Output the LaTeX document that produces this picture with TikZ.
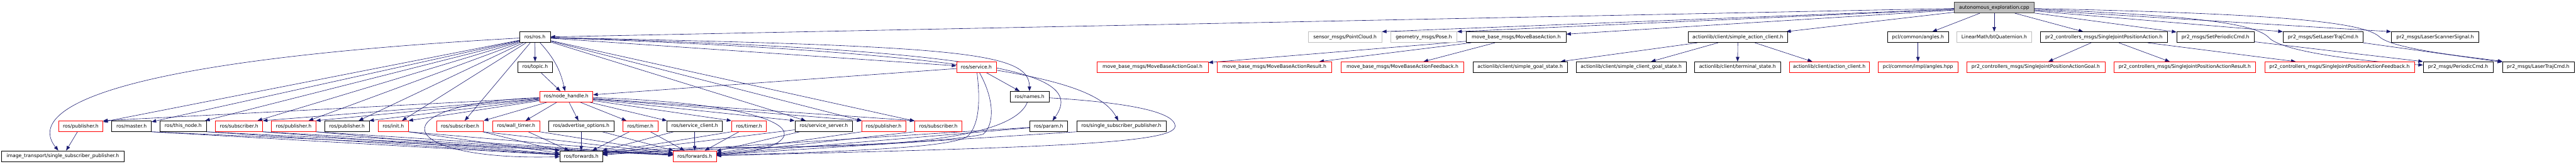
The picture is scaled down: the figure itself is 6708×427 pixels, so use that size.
\documentclass[tikz,border=0pt]{standalone}
\usepackage{fontspec}
\setmainfont{DejaVu Sans}
\usepackage{tikz}
\usetikzlibrary{arrows.meta,backgrounds}
\usepackage{xcolor}
\definecolor{edgeblue}{HTML}{191970}
\definecolor{lightgrey}{HTML}{BFBFBF}

\begin{document}
\begin{tikzpicture}[x=1pt,y=-1pt,>={Triangle[length=12pt,width=9pt]},font=\fontsize{12.6}{15}\selectfont,
  hdr/.style={draw=black,line width=1pt,fill=white,minimum height=28pt,inner sep=0pt},
  hdrred/.style={hdr,draw=red},
  hdrgrey/.style={hdr,draw=lightgrey},
  hdrmain/.style={hdr,draw=black!75,fill=lightgrey},
  inc/.style={->,edgeblue,line width=1pt}]
\useasboundingbox (0,0) rectangle (6708,427);
\node[hdrmain,minimum width=208] (aexp) at (5193,20) {autonomous\_exploration.cpp};
\node[hdr,minimum width=80] (rosh) at (1393,97) {ros/ros.h};
\node[hdrgrey,minimum width=191] (pcloud) at (3502.5,97) {sensor\_msgs/PointCloud.h};
\node[hdrgrey,minimum width=173] (pose) at (3707.5,97) {geometry\_msgs/Pose.h};
\node[hdr,minimum width=260] (mbaction) at (3948,97) {move\_base\_msgs/MoveBaseAction.h};
\node[hdr,minimum width=259] (sac) at (4525.5,97) {actionlib/client/simple\_action\_client.h};
\node[hdr,minimum width=159] (pclangles) at (4994.5,97) {pcl/common/angles.h};
\node[hdrgrey,minimum width=194] (btquat) at (5193,97) {LinearMath/btQuaternion.h};
\node[hdr,minimum width=331] (sjpa) at (5478.5,97) {pr2\_controllers\_msgs/SingleJointPositionAction.h};
\node[hdr,minimum width=202] (setper) at (5769,97) {pr2\_msgs/SetPeriodicCmd.h};
\node[hdr,minimum width=209] (setlaser) at (6049.5,97) {pr2\_msgs/SetLaserTrajCmd.h};
\node[hdr,minimum width=228] (lsignal) at (6341,97) {pr2\_msgs/LaserScannerSignal.h};
\node[hdr,minimum width=89] (topic) at (1393.5,175) {ros/topic.h};
\node[hdrred,minimum width=103] (service) at (2542.5,175) {ros/service.h};
\node[hdrred,minimum width=290] (mbgoal) at (3001,175) {move\_base\_msgs/MoveBaseActionGoal.h};
\node[hdrred,minimum width=299] (mbresult) at (3318.5,175) {move\_base\_msgs/MoveBaseActionResult.h};
\node[hdrred,minimum width=320] (mbfeedback) at (3652,175) {move\_base\_msgs/MoveBaseActionFeedback.h};
\node[hdr,minimum width=245] (sgstate) at (3958.5,175) {actionlib/client/simple\_goal\_state.h};
\node[hdr,minimum width=287] (scgstate) at (4247.5,175) {actionlib/client/simple\_client\_goal\_state.h};
\node[hdr,minimum width=223] (tstate) at (4524.5,175) {actionlib/client/terminal\_state.h};
\node[hdrred,minimum width=209] (aclient) at (4763.5,175) {actionlib/client/action\_client.h};
\node[hdrred,minimum width=207] (angleshpp) at (4994.5,175) {pcl/common/impl/angles.hpp};
\node[hdrred,minimum width=360] (sjpagoal) at (5301,175) {pr2\_controllers\_msgs/SingleJointPositionActionGoal.h};
\node[hdrred,minimum width=370] (sjparesult) at (5689,175) {pr2\_controllers\_msgs/SingleJointPositionActionResult.h};
\node[hdrred,minimum width=390] (sjpafeedback) at (6092,175) {pr2\_controllers\_msgs/SingleJointPositionActionFeedback.h};
\node[hdr,minimum width=182] (periodic) at (6401,175) {pr2\_msgs/PeriodicCmd.h};
\node[hdr,minimum width=187] (lasertraj) at (6609.5,175) {pr2\_msgs/LaserTrajCmd.h};
\node[hdrred,minimum width=139] (nodehandle) at (1474.5,252) {ros/node\_handle.h};
\node[hdr,minimum width=102] (names) at (2681,252) {ros/names.h};
\node[hdrred,minimum width=115] (pub_a) at (210.5,329) {ros/publisher.h};
\node[hdr,minimum width=103] (master) at (342.5,329) {ros/master.h};
\node[hdr,minimum width=120] (thisnode) at (477,329) {ros/this\_node.h};
\node[hdrred,minimum width=123] (sub_a) at (622.5,329) {ros/subscriber.h};
\node[hdrred,minimum width=115] (pub_b) at (764.5,329) {ros/publisher.h};
\node[hdr,minimum width=115] (pub_c) at (903.5,329) {ros/publisher.h};
\node[hdrred,minimum width=78] (init) at (1024,329) {ros/init.h};
\node[hdrred,minimum width=122] (sub_b) at (1198,329) {ros/subscriber.h};
\node[hdrred,minimum width=122] (walltimer) at (1344,329) {ros/wall\_timer.h};
\node[hdr,minimum width=171] (advopts) at (1513.5,329) {ros/advertise\_options.h};
\node[hdrred,minimum width=91] (timer_a) at (1667.5,329) {ros/timer.h};
\node[hdr,minimum width=144] (srvclient) at (1809,329) {ros/service\_client.h};
\node[hdrred,minimum width=91] (timer_b) at (1950.5,329) {ros/timer.h};
\node[hdr,minimum width=150] (srvserver) at (2145,329) {ros/service\_server.h};
\node[hdrred,minimum width=114] (pub_d) at (2301,329) {ros/publisher.h};
\node[hdrred,minimum width=123] (sub_c) at (2443.5,329) {ros/subscriber.h};
\node[hdr,minimum width=99] (param) at (2730.5,329) {ros/param.h};
\node[hdr,minimum width=232] (rosssp) at (2920,329) {ros/single\_subscriber\_publisher.h};
\node[hdr,minimum width=319] (itssp) at (163.5,407) {image\_transport/single\_subscriber\_publisher.h};
\node[hdr,minimum width=111] (fwd_a) at (1513.5,407) {ros/forwards.h};
\node[hdrred,minimum width=112] (fwd_b) at (1809,407) {ros/forwards.h};
\begin{scope}[on background layer]
\fill[white] (0,0) rectangle (6708,427);
\draw[inc] (aexp) -- (rosh);
\draw[inc] (aexp) -- (pcloud.north east);
\draw[inc] (aexp) -- (pose.north east);
\draw[inc] (aexp) -- (mbaction);
\draw[inc] (aexp) -- (sac);
\draw[inc] (aexp) -- (pclangles);
\draw[inc] (aexp) -- (btquat);
\draw[inc] (aexp) -- (sjpa);
\draw[inc] (aexp) -- (setper);
\draw[inc] (aexp) -- (setlaser.north west);
\draw[inc] (aexp) -- (lsignal.north west);
\draw[inc] (aexp) .. controls (5700,40) and (5870,60) .. (5907,97) .. controls (5940,135) and (6150,160) .. (periodic);
\draw[inc] (aexp) .. controls (5900,35) and (6150,55) .. (6195,95) .. controls (6230,130) and (6450,150) .. (lasertraj);
\draw[inc] (mbaction) -- (mbgoal);
\draw[inc] (mbaction) -- (mbresult);
\draw[inc] (mbaction) -- (mbfeedback);
\draw[inc] (sac) -- (sgstate);
\draw[inc] (sac) -- (scgstate);
\draw[inc] (sac) -- (tstate);
\draw[inc] (sac) -- (aclient);
\draw[inc] (pclangles) -- (angleshpp);
\draw[inc] (sjpa) -- (sjpagoal);
\draw[inc] (sjpa) -- (sjparesult);
\draw[inc] (sjpa) -- (sjpafeedback);
\draw[inc] (setper) -- (periodic.north west);
\draw[inc] (setlaser) -- (lasertraj);
\draw[inc] (rosh) -- (topic);
\draw[inc] (rosh) to[bend left=15] (nodehandle);
\draw[inc] (topic) -- (nodehandle);
\draw[inc] (rosh) -- (service);
\draw[inc] (service) -- (nodehandle);
\draw[inc] (service) -- (names);
\draw[inc] (rosh) .. controls (2500,120) and (2680,135) .. (names);
\draw[inc] (rosh) .. controls (2600,130) and (2830,190) .. (param);
\draw[inc] (rosh) .. controls (2650,140) and (2860,220) .. (rosssp);
\draw[inc] (rosh) .. controls (250,160) and (70,290) .. (itssp);
\draw[inc] (rosh) -- (pub_a);
\draw[inc] (rosh) -- (master);
\draw[inc] (rosh) -- (thisnode);
\draw[inc] (rosh) -- (sub_a);
\draw[inc] (rosh) -- (pub_b);
\draw[inc] (rosh) -- (pub_c);
\draw[inc] (rosh) -- (init);
\draw[inc] (rosh) -- (sub_b);
\draw[inc] (rosh) -- (srvserver);
\draw[inc] (rosh) -- (pub_d);
\draw[inc] (rosh) -- (sub_c);
\draw[inc] (nodehandle) -- (pub_a.north east);
\draw[inc] (nodehandle) -- (sub_a.north east);
\draw[inc] (nodehandle) -- (pub_b.north east);
\draw[inc] (nodehandle) -- (pub_c.north east);
\draw[inc] (nodehandle) -- (init.north east);
\draw[inc] (nodehandle) -- (sub_b.north east);
\draw[inc] (nodehandle) -- (walltimer);
\draw[inc] (nodehandle) -- (advopts);
\draw[inc] (nodehandle) -- (timer_a);
\draw[inc] (nodehandle) -- (srvclient.north west);
\draw[inc] (nodehandle) -- (timer_b.north west);
\draw[inc] (nodehandle) -- (srvserver.north west);
\draw[inc] (nodehandle) -- (pub_d.north west);
\draw[inc] (nodehandle) -- (sub_c.north west);
\draw[inc] (nodehandle) .. controls (980,270) and (1020,420) .. (fwd_a);
\draw[inc] (nodehandle) .. controls (2160,275) and (2120,390) .. (fwd_b);
\draw[inc] (pub_a) -- (itssp);
\draw[inc] (master.south east) -- (fwd_a);
\draw[inc] (master.south east) -- (fwd_b);
\draw[inc] (thisnode.south east) -- (fwd_a);
\draw[inc] (thisnode.south east) -- (fwd_b);
\draw[inc] (sub_a.south east) -- (fwd_a);
\draw[inc] (sub_a.south east) -- (fwd_b);
\draw[inc] (pub_b.south east) -- (fwd_a);
\draw[inc] (pub_b.south east) -- (fwd_b);
\draw[inc] (init.south east) -- (fwd_a);
\draw[inc] (init.south east) -- (fwd_b);
\draw[inc] (sub_b) -- (fwd_a);
\draw[inc] (sub_b.south east) -- (fwd_b);
\draw[inc] (walltimer) -- (fwd_a);
\draw[inc] (walltimer.south east) -- (fwd_b);
\draw[inc] (advopts) -- (fwd_a);
\draw[inc] (advopts) -- (fwd_b);
\draw[inc] (timer_a) -- (fwd_a);
\draw[inc] (timer_a) -- (fwd_b);
\draw[inc] (srvclient) -- (fwd_a);
\draw[inc] (srvclient) -- (fwd_b);
\draw[inc] (timer_b.south west) -- (fwd_a);
\draw[inc] (timer_b) -- (fwd_b);
\draw[inc] (srvserver) -- (fwd_a);
\draw[inc] (srvserver) -- (fwd_b);
\draw[inc] (pub_d.south west) -- (fwd_b);
\draw[inc] (sub_c.south west) -- (fwd_b);
\draw[inc] (param) -- (fwd_a);
\draw[inc] (param) -- (fwd_b);
\draw[inc] (rosssp.south west) -- (fwd_b);
\draw[inc] (names) .. controls (2630,380) and (2200,384) .. (1900,384) .. controls (1750,386) and (1620,392) .. (fwd_a);
\draw[inc] (names) .. controls (2850,262) and (3060,280) .. (3060,329) .. controls (3060,375) and (2700,385) .. (fwd_b);
\draw[inc] (service) .. controls (2555,280) and (2545,330) .. (2520,355) .. controls (2480,385) and (2200,395) .. (fwd_b);
\draw[inc] (service) .. controls (2590,260) and (2590,325) .. (2560,350) .. controls (2400,385) and (1800,383) .. (fwd_a);
\end{scope}
\end{tikzpicture}
\end{document}
